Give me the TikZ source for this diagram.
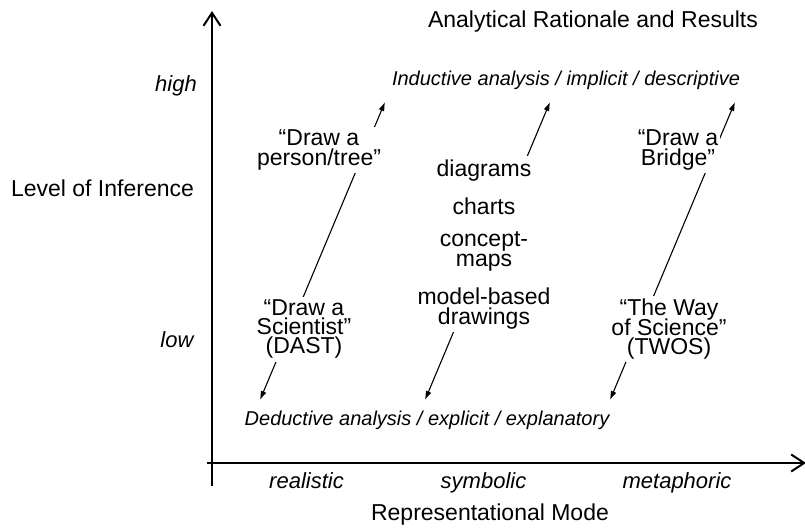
\documentclass[tikz,border=0pt]{standalone}
\usepackage{fontspec}
\setmainfont{Liberation Sans}
\usetikzlibrary{arrows.meta}
\newcommand\tightlines{\lineskiplimit=-100pt\relax}

\begin{document}
\begin{tikzpicture}[x=1pt, y=1pt,
    axis/.style={line width=2pt, -{Straight Barb[length=13pt,width=17pt]}},
    diag/.style={line width=1.1pt, {Latex[length=9pt,width=6pt]}-{Latex[length=9pt,width=6pt]}},
    item/.style={fill=white, align=center, inner xsep=2pt, inner ysep=3pt,
        font=\fontsize{23}{19.2}\selectfont\tightlines},
    lab/.style={anchor=base, font=\fontsize{23}{23}\selectfont},
    ital/.style={anchor=base, font=\fontsize{22}{22}\selectfont\itshape},
    note/.style={anchor=base, font=\fontsize{20}{20}\selectfont\itshape}]

    \useasboundingbox (0,0) rectangle (805,528);

    % Axes
    \coordinate (o1) at (212,42);
    \coordinate (ytip) at (212,517);
    \coordinate (o2) at (207,65);
    \coordinate (xtip) at (806,65);
    \draw[axis] (o1) -- (ytip);
    \draw[axis] (o2) -- (xtip);

    % Axis titles
    \node[lab] (title) at (593,500) {Analytical Rationale and Results};
    \node[lab] (level) at (102.5,331) {Level of Inference};
    \node[lab] (mode) at (490,8) {Representational Mode};
    \node[ital] (high) at (176,436) {high};
    \node[ital] (low) at (177,181) {low};

    % Modes along the x axis
    \foreach \x/\name/\txt in {306.5/real/realistic, 483.5/symb/symbolic, 677/meta/metaphoric} {
        \node[ital] (\name) at (\x,40) {\txt};
    }

    % Kinds of analysis
    \node[note] (induct) at (566,442) {Inductive analysis / implicit / descriptive};
    \node[note] (deduct) at (427,103) {Deductive analysis / explicit / explanatory};

    % Arrows (drawn first, the boxes cover them)
    \coordinate (dedL) at (260,128);
    \coordinate (indL) at (385,426);
    \coordinate (dedM) at (425,128);
    \coordinate (indM) at (550,426);
    \coordinate (dedR) at (610,128);
    \coordinate (indR) at (735,426);
    \draw[diag] (dedL) -- (indL);
    \draw[diag] (dedM) -- (indM);
    \draw[diag] (dedR) -- (indR);

    % Realistic
    \node[item] (person) at (319,378) {“Draw a\\person/tree”};
    \node[item] (scientist) at (304,198.8) {“Draw a\\Scientist”\\(DAST)};

    % Symbolic
    \node[item, font=\fontsize{23}{20}\selectfont\tightlines] (forms) at (484,283.9)
        {diagrams\\[18pt]charts\\[12.7pt]concept-\\maps\\[17.3pt]model-based\\drawings};

    % Metaphoric
    \node[item] (bridge) at (678,378) {“Draw a\\Bridge”};
    \node[item] (twos) at (669,198.8) {“The Way\\of Science”\\(TWOS)};

\end{tikzpicture}
\end{document}
